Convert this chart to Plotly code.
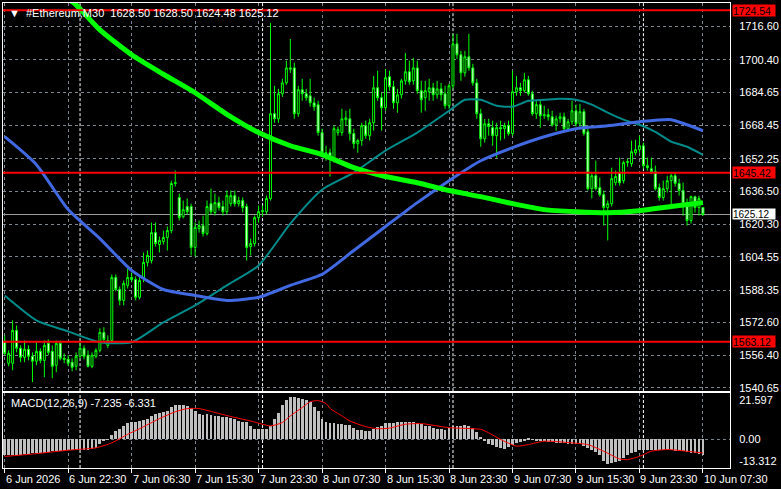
import plotly.graph_objects as go

# ---------------- data ----------------
time_labels = ["6 Jun 2026", "6 Jun 22:30", "7 Jun 06:30", "7 Jun 15:30", "7 Jun 23:30",
               "8 Jun 07:30", "8 Jun 15:30", "8 Jun 23:30", "9 Jun 07:30", "9 Jun 15:30",
               "9 Jun 23:30", "10 Jun 07:30"]
time_label_bar = [0, 16, 32, 48, 64, 80, 96, 112, 128, 144, 160, 176]
day_separator_bar = [19, 65, 113, 161]

opens = [1563.4, 1552.7, 1552.7, 1568.7, 1560.0, 1555.6, 1559.5, 1556.1, 1553.7, 1558.5,
         1554.1, 1562.4, 1558.5, 1551.7, 1562.4, 1555.1, 1554.6, 1553.2, 1551.2, 1556.1,
         1560.0, 1556.6, 1551.2, 1556.1, 1559.0, 1567.7, 1561.4, 1563.8, 1594.5, 1588.6,
         1583.3, 1590.6, 1594.5, 1593.5, 1584.8, 1594.0, 1601.8, 1602.7, 1616.3, 1610.5,
         1612.0, 1613.9, 1617.3, 1640.2, 1633.4, 1624.1, 1629.0, 1629.0, 1609.1, 1618.3,
         1619.7, 1615.9, 1630.4, 1626.1, 1630.9, 1629.0, 1626.5, 1630.4, 1634.3, 1630.4,
         1631.9, 1629.0, 1609.5, 1611.0, 1623.6, 1626.5, 1626.5, 1632.9, 1674.2, 1671.7,
         1683.9, 1689.2, 1696.5, 1696.5, 1674.2, 1685.9, 1683.9, 1682.9, 1679.5, 1678.6,
         1665.0, 1655.2, 1655.2, 1652.3, 1665.0, 1665.0, 1671.3, 1671.7, 1664.5, 1659.6,
         1661.1, 1668.4, 1663.5, 1669.8, 1686.8, 1682.0, 1677.1, 1692.2, 1687.3, 1679.5,
         1683.4, 1690.2, 1694.6, 1690.2, 1696.5, 1685.4, 1682.0, 1684.9, 1686.8, 1683.4,
         1686.3, 1683.9, 1678.1, 1687.8, 1708.2, 1702.9, 1694.1, 1701.9, 1696.5, 1689.2,
         1674.2, 1662.0, 1669.3, 1667.4, 1663.5, 1667.4, 1666.9, 1668.4, 1664.5, 1684.9,
         1686.8, 1685.4, 1690.7, 1683.9, 1674.2, 1678.6, 1673.2, 1673.7, 1672.7, 1668.8,
         1671.7, 1672.7, 1666.9, 1670.3, 1675.6, 1669.3, 1675.2, 1665.4, 1637.7, 1644.0,
         1638.2, 1634.8, 1628.5, 1630.4, 1640.6, 1645.5, 1641.6, 1650.4, 1649.9, 1655.2,
         1656.7, 1658.6, 1648.9, 1647.4, 1646.0, 1638.2, 1633.4, 1637.7, 1641.6, 1644.0,
         1640.2, 1636.8, 1630.9, 1622.2, 1633.8, 1628.5, 1628.50]
highs = [1566.3, 1559.0, 1573.6, 1571.1, 1561.4, 1563.8, 1561.4, 1558.0, 1562.9, 1560.0,
         1563.8, 1564.3, 1561.4, 1563.8, 1563.8, 1557.5, 1556.6, 1555.1, 1558.0, 1562.9,
         1561.4, 1559.0, 1558.0, 1560.0, 1569.7, 1570.2, 1566.3, 1595.9, 1595.9, 1590.1,
         1593.0, 1598.9, 1596.9, 1595.0, 1595.0, 1606.6, 1607.6, 1621.2, 1621.2, 1614.4,
         1617.3, 1619.3, 1641.6, 1646.5, 1635.3, 1631.9, 1632.9, 1630.4, 1621.2, 1622.2,
         1624.6, 1631.9, 1637.7, 1635.3, 1633.8, 1631.9, 1636.8, 1636.8, 1636.8, 1633.8,
         1633.4, 1630.4, 1613.4, 1624.6, 1629.5, 1629.5, 1634.3, 1718.4, 1687.8, 1686.3,
         1691.2, 1700.0, 1710.6, 1699.0, 1687.8, 1691.2, 1686.3, 1691.2, 1682.0, 1680.5,
         1666.9, 1658.6, 1657.2, 1668.4, 1667.9, 1676.6, 1675.6, 1676.6, 1666.9, 1662.0,
         1669.8, 1670.8, 1671.7, 1692.6, 1695.1, 1684.4, 1696.0, 1695.1, 1690.2, 1686.3,
         1691.2, 1703.8, 1700.0, 1701.4, 1700.0, 1690.2, 1690.2, 1691.2, 1689.2, 1690.2,
         1689.2, 1687.8, 1688.8, 1713.1, 1713.1, 1704.8, 1704.8, 1713.1, 1698.5, 1691.2,
         1676.6, 1671.7, 1671.7, 1670.8, 1669.8, 1670.8, 1669.8, 1670.8, 1695.1, 1692.6,
         1689.2, 1694.1, 1692.6, 1685.4, 1680.5, 1680.5, 1678.1, 1676.6, 1675.6, 1673.2,
         1674.7, 1674.7, 1671.7, 1680.5, 1678.6, 1679.0, 1676.6, 1666.9, 1645.5, 1651.3,
         1643.1, 1636.8, 1631.9, 1647.9, 1646.5, 1652.8, 1651.3, 1652.3, 1661.1, 1661.5,
         1663.5, 1660.1, 1652.8, 1652.8, 1648.9, 1640.2, 1641.6, 1644.0, 1645.0, 1645.5,
         1642.6, 1640.6, 1632.9, 1634.3, 1634.3, 1634.3, 1628.50]
lows = [1556.6, 1551.2, 1549.3, 1558.0, 1553.2, 1553.2, 1554.1, 1543.5, 1551.7, 1552.7,
        1545.9, 1556.6, 1545.4, 1548.3, 1554.1, 1552.7, 1551.2, 1548.8, 1549.3, 1555.1,
        1554.6, 1550.7, 1550.3, 1555.1, 1558.0, 1563.4, 1560.0, 1562.9, 1587.7, 1580.9,
        1580.9, 1589.1, 1592.1, 1583.3, 1583.8, 1592.1, 1599.8, 1601.3, 1609.5, 1606.6,
        1610.5, 1607.6, 1615.9, 1638.7, 1622.2, 1623.2, 1625.1, 1605.2, 1604.7, 1616.3,
        1614.4, 1614.9, 1625.1, 1624.6, 1627.0, 1624.6, 1625.1, 1629.0, 1629.0, 1629.0,
        1626.1, 1602.7, 1605.2, 1609.5, 1621.2, 1624.1, 1625.1, 1631.9, 1669.8, 1669.8,
        1682.4, 1688.3, 1694.1, 1671.7, 1672.7, 1680.5, 1680.5, 1677.6, 1675.6, 1663.5,
        1653.3, 1651.3, 1643.6, 1650.4, 1663.5, 1663.5, 1668.4, 1661.1, 1657.2, 1655.2,
        1658.6, 1662.0, 1661.1, 1665.9, 1680.5, 1665.9, 1675.6, 1685.4, 1676.6, 1674.7,
        1681.5, 1688.3, 1688.3, 1688.3, 1683.9, 1674.7, 1675.6, 1680.5, 1680.5, 1681.5,
        1680.5, 1676.6, 1676.6, 1686.3, 1700.9, 1690.2, 1692.2, 1695.1, 1687.8, 1671.7,
        1658.1, 1660.1, 1663.5, 1658.6, 1652.8, 1661.1, 1662.0, 1663.5, 1663.5, 1682.9,
        1682.9, 1684.4, 1682.9, 1673.2, 1671.7, 1667.4, 1671.7, 1670.8, 1667.9, 1665.9,
        1669.8, 1665.9, 1665.4, 1668.8, 1667.9, 1667.9, 1663.5, 1636.8, 1632.9, 1636.8,
        1633.8, 1619.7, 1612.5, 1629.0, 1639.2, 1639.2, 1640.2, 1648.4, 1648.4, 1653.8,
        1655.2, 1647.4, 1646.5, 1645.0, 1636.8, 1631.9, 1631.9, 1635.8, 1629.5, 1638.7,
        1634.3, 1624.6, 1619.7, 1620.7, 1626.1, 1624.6, 1624.48]
closes = [1557.5, 1557.5, 1568.7, 1560.0, 1555.6, 1559.5, 1556.1, 1553.7, 1558.5, 1554.1,
          1561.4, 1558.0, 1551.2, 1562.4, 1555.1, 1554.6, 1552.7, 1550.7, 1556.1, 1560.0,
          1556.1, 1551.2, 1556.6, 1559.0, 1567.7, 1564.3, 1563.8, 1594.5, 1588.6, 1583.3,
          1591.6, 1594.5, 1593.5, 1584.8, 1593.0, 1601.8, 1605.2, 1616.3, 1611.0, 1612.5,
          1613.9, 1617.3, 1640.2, 1640.6, 1623.6, 1627.5, 1626.5, 1609.1, 1618.8, 1619.7,
          1615.9, 1629.0, 1626.5, 1630.9, 1628.5, 1626.5, 1634.3, 1634.3, 1630.4, 1631.9,
          1628.5, 1609.1, 1611.0, 1623.6, 1626.5, 1627.0, 1632.9, 1674.2, 1671.7, 1683.9,
          1689.2, 1696.5, 1696.0, 1674.2, 1685.9, 1683.9, 1682.0, 1679.5, 1677.6, 1665.0,
          1655.2, 1654.7, 1652.3, 1666.9, 1666.4, 1671.7, 1672.2, 1664.5, 1659.6, 1661.1,
          1668.4, 1663.5, 1669.8, 1686.8, 1682.0, 1677.1, 1691.7, 1687.3, 1679.5, 1683.4,
          1690.2, 1694.6, 1689.7, 1696.5, 1685.4, 1681.0, 1685.4, 1686.8, 1683.4, 1686.3,
          1683.4, 1678.1, 1687.8, 1708.2, 1702.9, 1694.1, 1701.9, 1696.5, 1689.2, 1674.2,
          1662.0, 1669.3, 1667.9, 1663.5, 1667.4, 1666.9, 1668.4, 1664.5, 1684.9, 1686.8,
          1685.4, 1690.7, 1683.9, 1674.2, 1678.6, 1673.2, 1673.7, 1672.7, 1668.8, 1671.7,
          1672.7, 1666.9, 1670.3, 1675.6, 1669.3, 1675.2, 1664.5, 1637.7, 1644.0, 1637.7,
          1634.8, 1628.5, 1630.4, 1642.6, 1643.6, 1640.6, 1650.4, 1650.9, 1655.7, 1656.7,
          1658.6, 1648.9, 1647.9, 1646.0, 1637.7, 1633.4, 1637.7, 1641.6, 1644.0, 1640.2,
          1636.8, 1630.4, 1622.2, 1633.8, 1628.5, 1632.9, 1625.12]

# moving averages read at sampled bars
ma_green_bar = [14, 16, 18, 24, 32, 40, 48, 56, 64, 72, 80, 88, 96, 104, 112, 120, 128,
                136, 144, 152, 160, 168, 176]
ma_green = [1732.0, 1730.0, 1727.2, 1715.0, 1702.9, 1693.4, 1684.4, 1673.9, 1665.0, 1658.6,
            1654.3, 1647.9, 1643.6, 1640.6, 1636.8, 1633.8, 1630.4, 1627.5, 1626.5, 1626.0,
            1627.0, 1629.0, 1630.9]
ma_blue_bar = [0, 8, 16, 24, 32, 40, 48, 56, 64, 72, 80, 88, 96, 104, 112, 120, 128, 136,
               144, 152, 160, 168, 172, 176]
ma_blue = [1663.0, 1649.4, 1627.5, 1613.4, 1597.9, 1588.6, 1585.7, 1583.3, 1584.8, 1590.6,
           1596.0, 1607.6, 1619.3, 1630.9, 1641.6, 1651.3, 1657.7, 1663.0, 1666.9, 1668.3,
           1670.3, 1671.3, 1668.8, 1665.9]
ma_teal_bar = [0, 8, 16, 24, 32, 40, 48, 56, 64, 72, 80, 88, 96, 104, 112, 116, 120, 124,
               128, 132, 136, 140, 144, 148, 152, 156, 160, 164, 168, 172, 176]
ma_teal = [1585.7, 1573.6, 1568.2, 1562.9, 1562.9, 1572.6, 1580.9, 1590.6, 1600.3, 1620.7,
           1637.2, 1645.5, 1656.2, 1665.0, 1675.6, 1681.0, 1681.0, 1678.1, 1677.6, 1680.5,
           1681.0, 1681.5, 1681.0, 1678.6, 1674.7, 1671.3, 1668.8, 1665.4, 1660.6, 1658.1,
           1654.2]

macd_hist = [-7.5, -7.4, -7.3, -7.2, -7.1, -7.0, -6.9, -6.6, -6.3, -6.2,
             -6.3, -6.0, -5.5, -5.4, -5.4, -5.4, -5.2, -5.0, -5.0, -5.0,
             -4.9, -4.9, -4.5, -4.2, -2.4, -0.9, -0.3, 2.0, 4.0, 5.0,
             6.0, 7.5, 8.0, 8.2, 8.6, 9.0, 9.7, 11.0, 11.8, 12.4,
             12.8, 13.2, 15.0, 15.9, 16.2, 16.2, 15.7, 14.5, 13.0, 12.0,
             11.5, 11.6, 11.3, 11.0, 10.7, 10.5, 10.2, 10.0, 9.6, 8.6,
             8.3, 7.9, 6.3, 5.0, 5.0, 5.0, 5.0, 6.3, 9.5, 12.5,
             16.0, 18.5, 19.6, 19.6, 19.3, 18.8, 18.3, 17.2, 15.3, 13.0,
             9.5, 8.0, 7.6, 7.4, 7.3, 7.3, 6.8, 6.5, 5.2, 4.5,
             4.3, 4.0, 4.0, 4.6, 5.8, 6.4, 7.4, 7.4, 7.8, 8.0,
             8.2, 8.3, 8.3, 8.2, 7.8, 7.0, 6.3, 6.0, 5.3, 5.0,
             4.8, 4.4, 5.5, 6.3, 6.0, 6.4, 6.6, 6.3, 5.5, 3.5,
             1.3, -1.0, -2.0, -2.8, -3.6, -3.9, -4.4, -3.8, -2.6, -1.8,
             -1.2, -0.6, 0.3, -0.3, -0.6, -0.8, -0.8, -1.1, -1.4, -1.6,
             -1.6, -1.9, -2.4, -2.0, -2.2, -2.4, -3.3, -4.2, -5.0, -6.0,
             -7.2, -10.0, -11.3, -11.0, -10.6, -10.0, -8.8, -7.5, -6.6, -6.0,
             -5.0, -4.8, -4.8, -4.9, -5.0, -5.0, -4.9, -5.0, -5.2, -5.4,
             -5.5, -5.6, -6.0, -6.3, -6.4, -6.7, -7.235]
signal_bar = [0, 7, 16, 23, 27, 31, 34, 39, 43, 46, 49, 53, 57, 62, 65, 67, 70, 72, 75,
              77, 79, 81, 82, 85, 87, 91, 94, 97, 101, 105, 112, 120, 122, 125, 129, 132,
              136, 143, 147, 151, 155, 157, 160, 163, 167, 172, 176]
signal = [-7.9, -6.8, -5.0, -3.9, -1.6, 2.4, 5.0, 9.7, 12.9, 14.4, 14.4, 12.6, 10.7, 8.6,
          7.1, 6.3, 7.9, 11.0, 14.9, 17.6, 18.1, 16.8, 14.5, 11.0, 8.6, 6.0, 5.0, 5.3, 7.1,
          7.4, 5.5, 4.7, 3.1, 0.0, -3.1, -2.4, -0.8, -1.6, -2.4, -5.5, -9.1, -9.4, -7.9,
          -5.5, -4.7, -5.5, -6.331]

price_ticks = [1716.60, 1700.40, 1684.65, 1668.45, 1652.25, 1636.50, 1620.30, 1604.55,
               1588.35, 1572.60, 1556.40, 1540.65]
level_lines = [1724.54, 1645.42, 1563.12]
last_price = 1625.12
macd_tick_text = ["21.597", "0.00", "-13.312"]
macd_min, macd_max = -13.312, 21.597
header = "\u25bc  #Ethereum,M30  1628.50 1628.50 1624.48 1625.12"
macd_header = "MACD(12,26,9) -7.235 -6.331"

# ---------------- style ----------------
FONT = "Liberation Sans Narrow, Arial Narrow, Liberation Sans, Arial, sans-serif"
GRID = "#7d8590"
LIME = "#00FF00"
W, H = 781, 489
ML, MR, MT, MB = 2, 46, 2, 21
plot_h = H - MT - MB
main_bottom_px, macd_top_px = 391, 393
main_dom = [(H - MB - main_bottom_px) / plot_h, 1.0]
macd_dom = [0.0, (H - MB - macd_top_px) / plot_h]
xr = [-0.425, 182.825]
bars = list(range(len(opens)))

fig = go.Figure()

fig.add_trace(go.Candlestick(
    x=bars, open=opens, high=highs, low=lows, close=closes,
    increasing=dict(line=dict(color=LIME, width=1), fillcolor="#000000"),
    decreasing=dict(line=dict(color=LIME, width=1), fillcolor="#FFFFFF"),
    whiskerwidth=0, xaxis="x", yaxis="y", hoverinfo="skip", showlegend=False))

fig.add_trace(go.Scatter(x=ma_teal_bar, y=ma_teal, mode="lines",
                         line=dict(color="#008B8B", width=2, shape="spline", smoothing=0.6),
                         xaxis="x", yaxis="y", showlegend=False, hoverinfo="skip"))
fig.add_trace(go.Scatter(x=ma_blue_bar, y=ma_blue, mode="lines",
                         line=dict(color="#4169E1", width=3, shape="spline", smoothing=0.6),
                         xaxis="x", yaxis="y", showlegend=False, hoverinfo="skip"))
fig.add_trace(go.Scatter(x=ma_green_bar, y=ma_green, mode="lines",
                         line=dict(color=LIME, width=5, shape="spline", smoothing=0.6),
                         xaxis="x", yaxis="y", showlegend=False, hoverinfo="skip"))

fig.add_trace(go.Bar(x=bars, y=macd_hist, marker=dict(color="#C0C0C0", line=dict(width=0)),
                     width=0.72, xaxis="x2", yaxis="y2", showlegend=False, hoverinfo="skip"))
fig.add_trace(go.Scatter(x=signal_bar, y=signal, mode="lines",
                         line=dict(color="#FF0000", width=1, shape="spline", smoothing=0.6),
                         xaxis="x2", yaxis="y2", showlegend=False, hoverinfo="skip"))

shapes = []
for b in day_separator_bar:
    for xa, ya in (("x", "y"), ("x2", "y2")):
        shapes.append(dict(type="line", xref=xa, yref=f"{ya} domain", x0=b, x1=b, y0=0, y1=1,
                           line=dict(color="#FFFFFF", width=1, dash="3px,2px"), layer="below"))
shapes.append(dict(type="line", xref="x2 domain", yref="y2", x0=0, x1=1, y0=0, y1=0,
                   line=dict(color=GRID, width=1, dash="3px,3px"), layer="below"))
shapes.append(dict(type="line", xref="x domain", yref="y", x0=0, x1=1, y0=last_price,
                   y1=last_price, line=dict(color="#9a9a9a", width=1), layer="below"))
for lv in level_lines:
    shapes.append(dict(type="line", xref="x domain", yref="y", x0=0, x1=1, y0=lv, y1=lv,
                       line=dict(color="#FF0000", width=2), layer="above"))

annotations = []
for lv in level_lines:
    annotations.append(dict(x=1, xref="paper", y=lv, yref="y", xanchor="left", yanchor="middle",
                            xshift=2, text=f"{lv:.2f}", showarrow=False, bgcolor="#FF0000",
                            font=dict(family=FONT, size=10.5, color="#000000"),
                            width=42, height=11, align="left", valign="middle", borderpad=0))
annotations.append(dict(x=1, xref="paper", y=last_price, yref="y", xanchor="left",
                        yanchor="middle", xshift=2, yshift=1, text=f"{last_price:.2f}",
                        showarrow=False, bgcolor="#FFFFFF",
                        font=dict(family=FONT, size=10, color="#000000"),
                        width=42, height=10, align="left", valign="middle", borderpad=0))
for b, t in zip(time_label_bar, time_labels):
    annotations.append(dict(x=b, xref="x2", y=0, yref="paper", xanchor="left", yanchor="top",
                            yshift=-3, xshift=-1, text=t, showarrow=False,
                            font=dict(family=FONT, size=11, color="#FFFFFF")))
annotations.append(dict(x=0, xref="paper", y=1, yref="paper", xanchor="left", yanchor="top",
                        xshift=4, yshift=-2, text=header, showarrow=False,
                        font=dict(family=FONT, size=11, color="#FFFFFF")))
annotations.append(dict(x=0, xref="paper", y=macd_dom[1], yref="paper", xanchor="left",
                        yanchor="top", xshift=6, yshift=-2, text=macd_header, showarrow=False,
                        font=dict(family=FONT, size=11, color="#FFFFFF")))

macd_px = (macd_max - macd_min) / (H - MB - macd_top_px)
macd_tickvals = [macd_max - 7 * macd_px, 0.0, macd_min + 7 * macd_px]

axis_common = dict(showline=True, mirror=True, linecolor="#FFFFFF", linewidth=1,
                   zeroline=False)

fig.update_layout(
    width=W, height=H,
    margin=dict(l=ML, r=MR, t=MT, b=MB),
    paper_bgcolor="#000000", plot_bgcolor="#000000",
    showlegend=False, bargap=0,
    shapes=shapes, annotations=annotations,
    xaxis=dict(domain=[0, 1], anchor="y", range=xr, tickmode="array",
               tickvals=time_label_bar, showticklabels=False, ticks="",
               showgrid=True, gridcolor=GRID, griddash="3px,3px", gridwidth=1,
               rangeslider=dict(visible=False), **axis_common),
    yaxis=dict(domain=main_dom, anchor="x", side="right", range=[1539.1, 1728.1],
               tickmode="array", tickvals=price_ticks,
               ticktext=[f"{v:.2f}" for v in price_ticks],
               showgrid=True, gridcolor=GRID, griddash="3px,3px", gridwidth=1,
               ticks="", ticklabelstandoff=6,
               tickfont=dict(family=FONT, size=11, color="#FFFFFF"), **axis_common),
    xaxis2=dict(domain=[0, 1], anchor="y2", range=xr, tickmode="array",
                tickvals=time_label_bar, showticklabels=False, ticks="outside", ticklen=4,
                tickcolor="#FFFFFF", showgrid=True, gridcolor=GRID, griddash="3px,3px",
                gridwidth=1, **axis_common),
    yaxis2=dict(domain=macd_dom, anchor="x2", side="right", range=[macd_min, macd_max],
                tickmode="array", tickvals=macd_tickvals, ticktext=macd_tick_text,
                showgrid=False, ticks="", ticklabelstandoff=6,
                tickfont=dict(family=FONT, size=11, color="#FFFFFF"), **axis_common),
)

fig.write_html("out.html")
